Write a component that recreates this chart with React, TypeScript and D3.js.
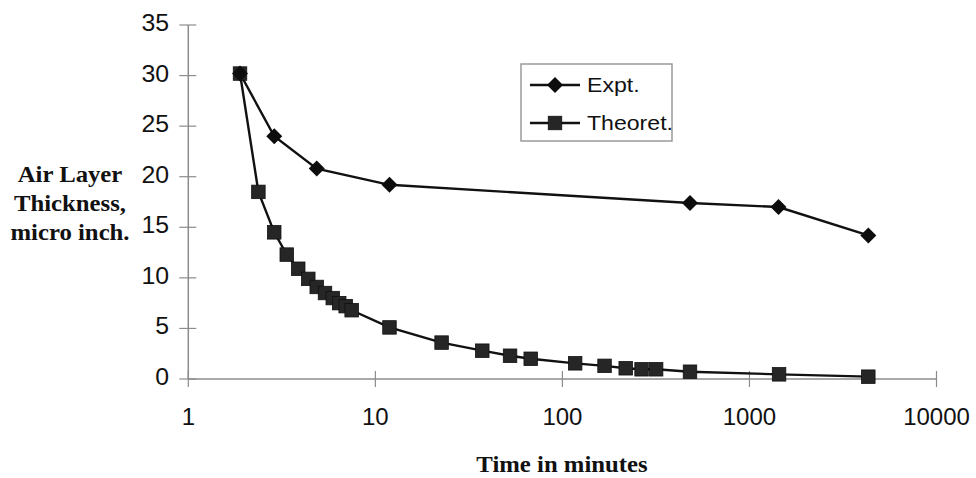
import React from "react";
import * as d3 from "d3";

const exptTime = [1.89, 2.88, 4.86, 11.9, 481, 1430, 4320];
const exptThick = [30.2, 24.0, 20.8, 19.2, 17.4, 17.0, 14.2];

const theoTime = [1.89, 2.37, 2.88, 3.36, 3.87, 4.38, 4.86, 5.38, 5.92, 6.41, 6.94, 7.47, 11.9, 22.6, 37.3, 52.5, 67.7, 117, 168, 218, 265, 317, 481, 1440, 4320];
const theoThick = [30.2, 18.5, 14.5, 12.3, 10.9, 9.9, 9.1, 8.5, 8.0, 7.5, 7.2, 6.8, 5.1, 3.6, 2.8, 2.3, 2.0, 1.55, 1.3, 1.06, 0.96, 0.96, 0.72, 0.46, 0.23];

const xTicks = [1, 10, 100, 1000, 10000];
const yTicks = [0, 5, 10, 15, 20, 25, 30, 35];
const yLabelLines = ["Air Layer", "Thickness,", "micro inch."];
const xTitle = "Time in minutes";
const seriesNames = ["Expt.", "Theoret."];

const W = 976;
const H = 478;
const SX = 1.1;

export default function App() {
  const x = d3.scaleLog().domain([1, 10000]).range([188.3, 936.5]);
  const y = d3.scaleLinear().domain([0, 35]).range([379, 25]);
  const line = d3
    .line<[number, number]>()
    .x((d) => x(d[0]))
    .y((d) => y(d[1]));
  const expt: [number, number][] = exptTime.map((t, i) => [t, exptThick[i]]);
  const theo: [number, number][] = theoTime.map((t, i) => [t, theoThick[i]]);
  const axisColor = "#8c8c8c";
  const sans = "'Liberation Sans', Arial, sans-serif";
  const serif = "'Liberation Serif', 'Times New Roman', serif";
  const sq = 13.5;
  const dm = 8;
  const diamond = (cx: number, cy: number) =>
    `M${cx},${cy - dm}L${cx + dm},${cy}L${cx},${cy + dm}L${cx - dm},${cy}Z`;

  return (
    <svg
      width={W}
      height={H}
      style={{ position: "absolute", left: 0, top: 0, background: "#fff" }}
    >
      <rect x={0} y={0} width={W} height={H} fill="#fff" />
      {/* axes */}
      <line x1={x(1)} x2={x(10000)} y1={y(0)} y2={y(0)} stroke={axisColor} strokeWidth={1.5} />
      <line x1={x(1)} x2={x(1)} y1={y(0)} y2={y(35)} stroke={axisColor} strokeWidth={1.5} />
      {yTicks.map((t) => (
        <g key={"yt" + t}>
          <line x1={x(1) - 9} x2={x(1) + 8} y1={y(t)} y2={y(t)} stroke={axisColor} strokeWidth={1.2} />
          <text
            transform={`translate(${169},${y(t) + 6}) scale(1.08,1)`}
            textAnchor="end"
            fontFamily={sans}
            fontSize={23}
            fill="#111"
          >
            {t}
          </text>
        </g>
      ))}
      {xTicks.map((t) => (
        <g key={"xt" + t}>
          <line x1={x(t)} x2={x(t)} y1={y(0) - 8} y2={y(0) + 8} stroke={axisColor} strokeWidth={1.2} />
          <text
            transform={`translate(${x(t)},${425})`}
            textAnchor="middle"
            fontFamily={sans}
            fontSize={24}
            fill="#111"
          >
            {t}
          </text>
        </g>
      ))}
      {/* axis titles */}
      {yLabelLines.map((s, i) => (
        <text
          key={s}
          transform={`translate(${70},${182 + i * 29}) scale(${SX},1)`}
          textAnchor="middle"
          fontFamily={serif}
          fontWeight="bold"
          fontSize={22.5}
          fill="#111"
        >
          {s}
        </text>
      ))}
      <text
        transform={`translate(${562},${472}) scale(${SX},1)`}
        textAnchor="middle"
        fontFamily={serif}
        fontWeight="bold"
        fontSize={22.5}
        fill="#111"
      >
        {xTitle}
      </text>
      {/* series */}
      <path d={line(theo) || ""} fill="none" stroke="#111" strokeWidth={2.4} />
      <path d={line(expt) || ""} fill="none" stroke="#111" strokeWidth={2.4} />
      {theo.map((d, i) => (
        <rect
          key={"s" + i}
          x={x(d[0]) - sq / 2}
          y={y(d[1]) - sq / 2}
          width={sq}
          height={sq}
          fill="#262626"
          stroke="#111"
          strokeWidth={0.8}
        />
      ))}
      {expt.map((d, i) => (
        <path key={"d" + i} d={diamond(x(d[0]), y(d[1]))} fill="#0d0d0d" />
      ))}
      {/* legend */}
      <rect x={521} y={64} width={151} height={77} fill="#fff" stroke="#9a9a9a" strokeWidth={1.5} />
      <line x1={530} x2={580} y1={85} y2={85} stroke="#111" strokeWidth={2.4} />
      <path d={diamond(555, 85)} fill="#0d0d0d" />
      <text transform={`translate(587,92) scale(${SX},1)`} fontFamily={sans} fontSize={21} fill="#111">
        {seriesNames[0]}
      </text>
      <line x1={530} x2={580} y1={123} y2={123} stroke="#111" strokeWidth={2.4} />
      <rect x={555 - sq / 2} y={123 - sq / 2} width={sq} height={sq} fill="#262626" stroke="#111" strokeWidth={0.8} />
      <text transform={`translate(587,130) scale(${SX},1)`} fontFamily={sans} fontSize={21} fill="#111">
        {seriesNames[1]}
      </text>
    </svg>
  );
}
